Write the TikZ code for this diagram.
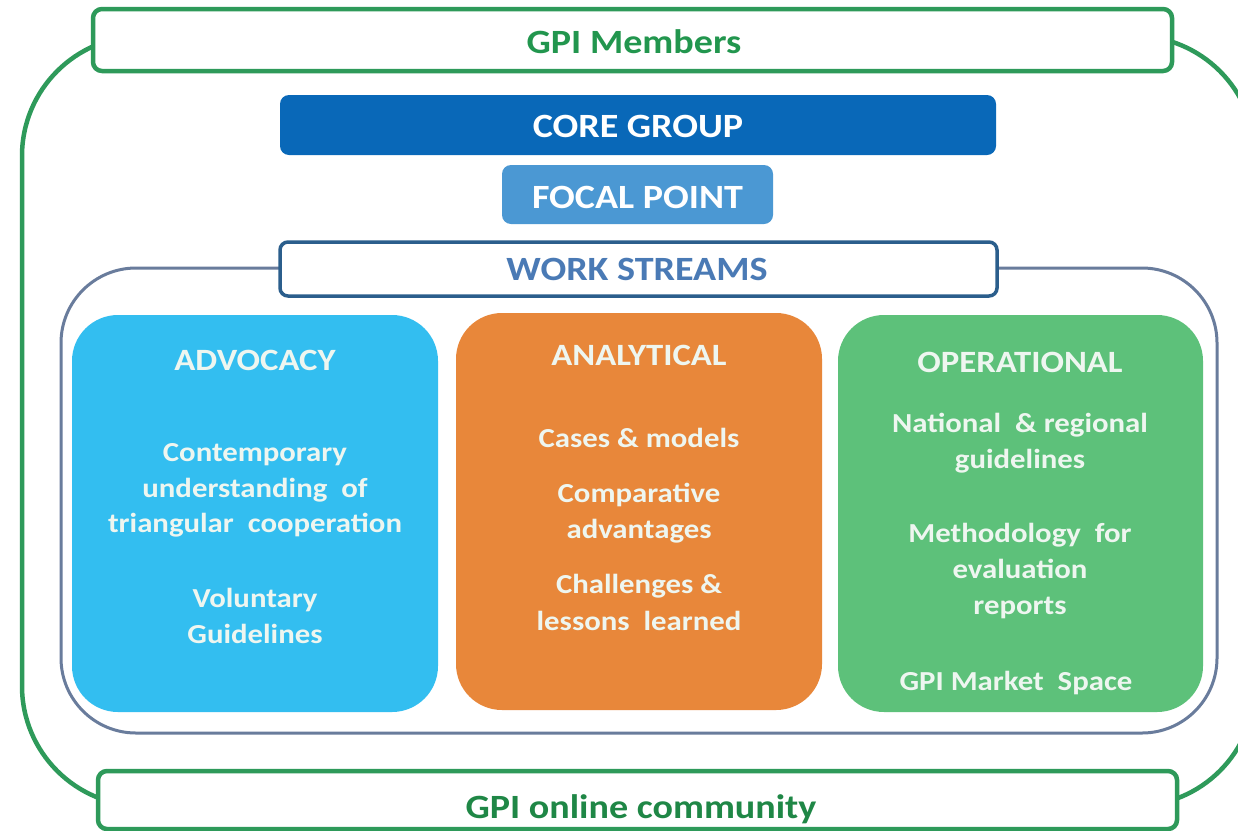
\documentclass[tikz,border=0pt]{standalone}
\usepackage{fontspec}
\setmainfont{Carlito}[FakeStretch=1.12]
\definecolor{gpigreen}{HTML}{2E9A5A}
\definecolor{gpitext}{HTML}{22964E}
\definecolor{coreblue}{HTML}{0968B8}
\definecolor{focalblue}{HTML}{4B98D3}
\definecolor{wsborder}{HTML}{2B5E8C}
\definecolor{wstext}{HTML}{4A7AB5}
\definecolor{frameblue}{HTML}{697C9C}
\definecolor{advblue}{HTML}{33BEF0}
\definecolor{anaorange}{HTML}{E8873A}
\definecolor{opgreen}{HTML}{5DC17A}
\definecolor{boxtext}{HTML}{EEF6F0}
\begin{document}
\begin{tikzpicture}[x=1pt,y=-1pt,
  greenbox/.style={draw=gpigreen, line width=4.5pt, fill=white, rounded corners=9pt, inner sep=0pt},
  solidbox/.style={rounded corners=9pt, inner sep=0pt},
  colbox/.style={rounded corners=46pt, inner sep=0pt, minimum height=397pt},
  biglbl/.style={anchor=base, font=\fontsize{34}{40}\selectfont\bfseries, inner sep=0pt},
  ttl/.style={anchor=base, text=boxtext, font=\fontsize{31}{36}\selectfont\bfseries, inner sep=0pt},
  body/.style={anchor=base, text=boxtext, font=\fontsize{27.5}{34}\selectfont\bfseries, inner sep=0pt}
]
\useasboundingbox (0,0) rectangle (1238,830);
\clip (0,0) rectangle (1238,830);
\fill[white] (0,0) rectangle (1238,830);
% outer green frame
\draw[gpigreen, line width=4.5pt, rounded corners=120pt] (22,36) rectangle (1255,806);
% work streams frame
\draw[frameblue, line width=3pt, rounded corners=75pt] (61,268) rectangle (1217,733);
% top / bottom boxes
\node[greenbox, minimum width=1079pt, minimum height=62pt] (members) at (632.5,40) {};
\node[greenbox, minimum width=1079pt, minimum height=58pt] (online) at (637.5,800) {};
\node[biglbl, text=gpitext] (tmembers) at (634,53) {GPI Members};
\node[biglbl, text=gpitext!90!black] (tonline) at (641,818) {GPI online community};
% core group / focal point
\node[solidbox, fill=coreblue, minimum width=716pt, minimum height=60pt] (core) at (638,125) {};
\node[biglbl, text=white] (tcore) at (638,137) {CORE GROUP};
\node[solidbox, fill=focalblue, minimum width=271pt, minimum height=59pt] (focal) at (637.5,194.5) {};
\node[biglbl, text=white] (tfocal) at (637.5,208) {FOCAL POINT};
% work streams label box
\node[draw=wsborder, line width=3.5pt, fill=white, rounded corners=8pt, inner sep=0pt, minimum width=717pt, minimum height=54pt] (ws) at (638.5,269) {};
\node[biglbl, text=wstext] (tws) at (637,280) {WORK STREAMS};
% column boxes
\node[colbox, fill=advblue, minimum width=366pt] (adv) at (255,513.5) {};
\node[colbox, fill=anaorange, minimum width=366pt] (ana) at (639,511.5) {};
\node[colbox, fill=opgreen, minimum width=365pt] (op) at (1020.5,513.5) {};
% advocacy texts
\node[ttl] (advt) at (255,370) {ADVOCACY};
\node[body] (adv1) at (255,461) {Contemporary};
\node[body] (adv2) at (255,497) {understanding\ \ of};
\node[body] (adv3) at (255,532) {triangular\ \ cooperation};
\node[body] (adv4) at (255,607) {Voluntary};
\node[body] (adv5) at (255,643) {Guidelines};
% analytical texts
\node[ttl] (anat) at (639,365) {ANALYTICAL};
\node[body] (ana1) at (639,447) {Cases \& models};
\node[body] (ana2) at (639,502) {Comparative};
\node[body] (ana3) at (639,538) {advantages};
\node[body] (ana4) at (639,593) {Challenges \&};
\node[body] (ana5) at (639,630) {lessons\ \ learned};
% operational texts
\node[ttl] (opt) at (1020,372) {OPERATIONAL};
\node[body] (op1) at (1020,432) {National\ \ \& regional};
\node[body] (op2) at (1020,468) {guidelines};
\node[body] (op3) at (1020,542) {Methodology\ \ for};
\node[body] (op4) at (1020,578) {evaluation};
\node[body] (op5) at (1020,614) {reports};
\node[body] (op6) at (1016,690) {GPI Market\ \ Space};
\end{tikzpicture}
\end{document}
